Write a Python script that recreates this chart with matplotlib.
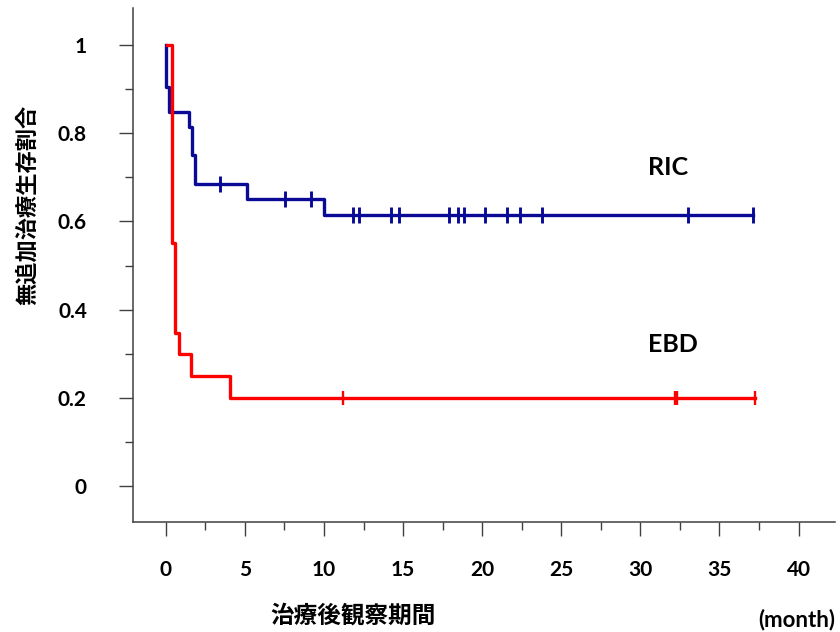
import numpy as np
import matplotlib
matplotlib.use("Agg")
import matplotlib.pyplot as plt
from matplotlib.ticker import MultipleLocator

plt.rcParams["font.family"] = ["Lato", "Noto Sans CJK JP", "DejaVu Sans"]

# RIC group (event times and survival after each drop)
ric_times = [0.0, 0.21, 1.47, 1.68, 1.83, 5.13, 9.97]
ric_surv = [0.905, 0.849, 0.815, 0.75, 0.686, 0.652, 0.615]
ric_censor = [3.45, 7.55, 9.19, 11.82, 12.2, 14.24, 14.76, 17.92, 18.5, 18.86,
              20.17, 21.6, 22.38, 23.8, 32.98, 37.1]
ric_end = 37.1

# EBD group
ebd_start = 0.08
ebd_times = [0.4, 0.61, 0.82, 1.62, 4.04]
ebd_surv = [0.551, 0.346, 0.299, 0.25, 0.2]
ebd_censor = [11.19, 32.18, 32.32, 37.27]
ebd_end = 37.27

x_ticks = [0, 5, 10, 15, 20, 25, 30, 35, 40]
y_ticks = [0, 0.2, 0.4, 0.6, 0.8, 1]
y_ticklabels = ["0", "0.2", "0.4", "0.6", "0.8", "1"]

blue = "#0a0a96"
red = "#ff0000"


def km_curve(start, times, surv, end):
    xs = [start] + list(times) + [end]
    ys = [1.0] + list(surv) + [surv[-1]]
    return xs, ys


def surv_at(t, times, surv):
    idx = np.searchsorted(times, t, side="right") - 1
    return 1.0 if idx < 0 else surv[idx]


fig = plt.figure(figsize=(8.4, 6.32), dpi=100)
ax = fig.add_axes([0.158, 0.174, 0.836, 0.813])

xs, ys = km_curve(0.0, ric_times, ric_surv, ric_end)
ax.step(xs, ys, where="post", color=blue, lw=2.4, zorder=3)
ax.plot(ric_censor, [surv_at(t, ric_times, ric_surv) for t in ric_censor],
        ls="none", marker="|", ms=11, mew=2.1, color=blue, zorder=3)

xs, ys = km_curve(ebd_start, ebd_times, ebd_surv, ebd_end)
ax.step(xs, ys, where="post", color=red, lw=2.4, zorder=4)
ax.plot(ebd_censor, [surv_at(t, ebd_times, ebd_surv) for t in ebd_censor],
        ls="none", marker="|", ms=10, mew=1.7, color=red, zorder=4)

ax.text(30.5, 0.722, "RIC", fontsize=18, fontweight="bold", va="center", ha="left")
ax.text(30.5, 0.32, "EBD", fontsize=18, fontweight="bold", va="center", ha="left")

ax.set_xlim(-2.09, 42.3)
ax.set_ylim(-0.082, 1.084)
ax.set_xticks(x_ticks)
ax.set_yticks(y_ticks)
ax.set_yticklabels(y_ticklabels)
ax.xaxis.set_minor_locator(MultipleLocator(2.5))
ax.yaxis.set_minor_locator(MultipleLocator(0.1))

for s in ["top", "right"]:
    ax.spines[s].set_visible(False)
for s in ["left", "bottom"]:
    ax.spines[s].set_color("#404040")
    ax.spines[s].set_linewidth(1.1)

ax.tick_params(axis="both", which="major", direction="out", length=10, width=1,
               color="#404040", labelsize=15, pad=17)
ax.tick_params(axis="both", which="minor", direction="out", length=6, width=1,
               color="#404040")
ax.tick_params(axis="y", which="major", pad=23)
for lab in ax.get_xticklabels() + ax.get_yticklabels():
    lab.set_fontweight("bold")

fig.text(27 / 840, 1 - 205 / 632, "無追加治療生存割合", rotation=90, fontsize=16,
         fontweight="bold", ha="center", va="center",
         family=["Noto Sans CJK JP", "DejaVu Sans"])
fig.text(353 / 840, 1 - 616 / 632, "治療後観察期間", fontsize=17,
         fontweight="bold", ha="center", va="center",
         family=["Noto Sans CJK JP", "DejaVu Sans"])
fig.text(797 / 840, 1 - 620 / 632, "(month)", fontsize=16,
         fontweight="bold", ha="center", va="center")

fig.savefig("out.png", dpi=100)
